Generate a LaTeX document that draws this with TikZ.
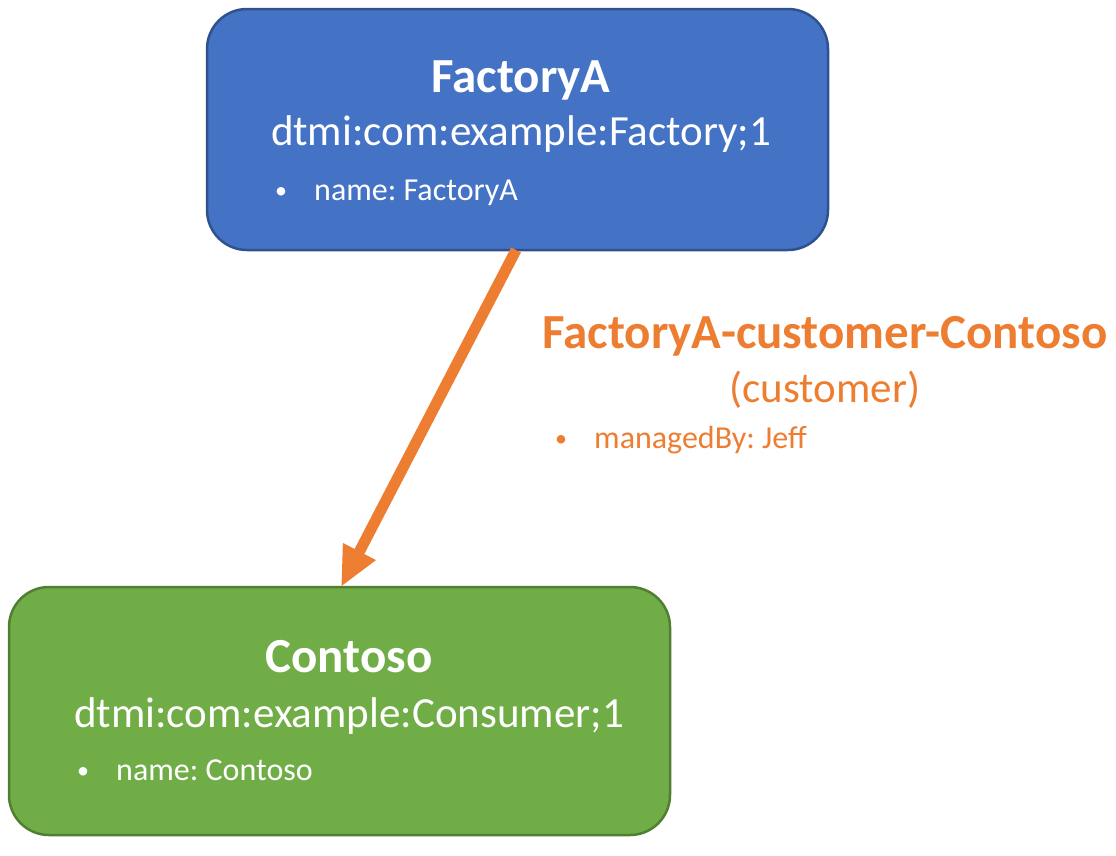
\documentclass[tikz,border=0pt]{standalone}
\usepackage{fontspec}
\setmainfont{Carlito}
\usetikzlibrary{arrows.meta}
\definecolor{bluefill}{HTML}{4472C4}
\definecolor{blueline}{HTML}{2F528F}
\definecolor{greenfill}{HTML}{70AD47}
\definecolor{greenline}{HTML}{507E32}
\definecolor{orangec}{HTML}{ED7D31}
\newcommand{\propbullet}{\makebox[39pt][l]{\raisebox{2pt}{\fontsize{24}{28}\selectfont•}}}
\tikzset{
  box/.style={rounded corners=40pt, line width=2.5pt, inner sep=0pt, outer sep=0pt},
  titletext/.style={anchor=base, inner sep=0pt, font=\fontsize{49}{56}\selectfont\bfseries},
  idtext/.style={anchor=base, inner sep=0pt, font=\fontsize{43}{50}\selectfont},
  bullettext/.style={anchor=base west, inner sep=0pt, font=\fontsize{32}{38}\selectfont},
  relarrow/.style={draw=orangec, line width=11pt, line cap=butt, -{Triangle[width=34pt,length=40pt]}}
}
\begin{document}
\frenchspacing
\begin{tikzpicture}[x=1pt,y=-1pt]
\useasboundingbox (0,0) rectangle (1116,855);
% boxes
\node[box, draw=blueline, fill=bluefill, minimum width=621pt, minimum height=241pt] (factory) at (517.5,129.5) {};
\node[box, draw=greenline, fill=greenfill, minimum width=661pt, minimum height=248pt] (contoso) at (339.5,711) {};
% factory text
\node[titletext, text=white] (ftitle) at (521,92) {FactoryA};
\node[idtext, text=white] (fid) at (521,145) {dtmi:com:example:Factory;1};
\node[bullettext, text=white] (fprop) at (275,200) {\propbullet name: FactoryA};
% contoso text
\node[titletext, text=white] (ctitle) at (349,672) {Contoso};
\node[idtext, text=white] (cid) at (349,727) {dtmi:com:example:Consumer;1};
\node[bullettext, text=white] (cprop) at (77,780) {\propbullet name: Contoso};
% relationship
\draw[relarrow] ([xshift=-1.5pt]factory.south) -- ([xshift=1.5pt]contoso.north);
\node[titletext, text=orangec] (rname) at (825,348) {FactoryA-customer-Contoso};
\node[idtext, text=orangec] (rtype) at (825,402) {(customer)};
\node[bullettext, text=orangec] (rprop) at (555,448) {\propbullet managedBy: Jeff};
\end{tikzpicture}
\end{document}
